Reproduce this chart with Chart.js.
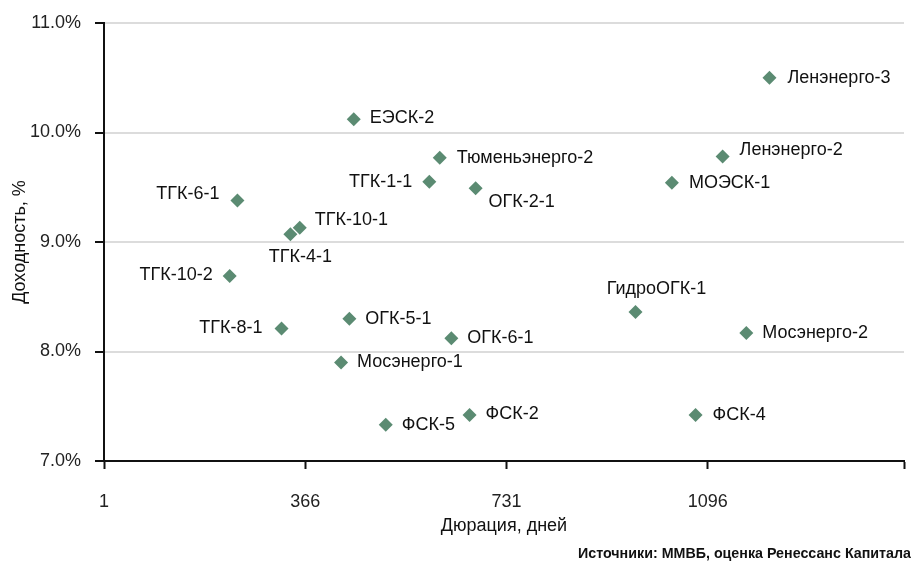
<!DOCTYPE html>
<html>
<head>
    <title>Доходность и дюрация</title>
    <script src="https://cdn.jsdelivr.net/npm/chart.js"></script>
    <style>
        html, body { margin: 0; padding: 0; background: #fff; }
        #wrap { width: 911px; height: 562px; position: relative; }
    </style>
</head>
<body>
    <div id="wrap">
        <canvas id="scatterChart" width="911" height="562"></canvas>
    </div>

    <script>
        // data
        var bondNames = ['Ленэнерго-3', 'Ленэнерго-2', 'МОЭСК-1', 'ЕЭСК-2', 'Тюменьэнерго-2',
            'ТГК-1-1', 'ОГК-2-1', 'ТГК-10-1', 'ТГК-4-1', 'ТГК-6-1', 'ТГК-10-2', 'ТГК-8-1',
            'ОГК-5-1', 'ОГК-6-1', 'Мосэнерго-1', 'ФСК-5', 'ФСК-2', 'ГидроОГК-1',
            'Мосэнерго-2', 'ФСК-4'];
        var durationDays = [1208, 1123, 1031, 454, 610, 591, 675, 356, 339, 243, 229, 323,
            446, 631, 431, 512, 664, 965, 1166, 1074];
        var yieldPct = [10.50, 9.78, 9.54, 10.12, 9.77, 9.55, 9.49, 9.13, 9.07, 9.38, 8.69, 8.21,
            8.30, 8.12, 7.90, 7.33, 7.42, 8.36, 8.17, 7.42];
        var xTicks = [1, 366, 731, 1096];
        var xMax = 1452;
        var yTicks = [7, 8, 9, 10, 11];

        // where each label sits relative to its marker: [dx, dy, align]
        var labelPlace = {
            'Ленэнерго-3': [18, 0, 'left'],
            'Ленэнерго-2': [17, -7, 'left'],
            'МОЭСК-1': [17, 0, 'left'],
            'ЕЭСК-2': [16, -1, 'left'],
            'Тюменьэнерго-2': [17, 0, 'left'],
            'ТГК-1-1': [-17, 0, 'right'],
            'ОГК-2-1': [13, 14, 'left'],
            'ТГК-10-1': [15, -8, 'left'],
            'ТГК-4-1': [10, 23, 'center'],
            'ТГК-6-1': [-18, -6, 'right'],
            'ТГК-10-2': [-17, -1, 'right'],
            'ТГК-8-1': [-19, 0, 'right'],
            'ОГК-5-1': [16, 0, 'left'],
            'ОГК-6-1': [16, 0, 'left'],
            'Мосэнерго-1': [16, 0, 'left'],
            'ФСК-5': [16, 0, 'left'],
            'ФСК-2': [16, -1, 'left'],
            'ГидроОГК-1': [21, -23, 'center'],
            'Мосэнерго-2': [16, 0, 'left'],
            'ФСК-4': [17, 0, 'left']
        };

        var points = durationDays.map(function (d, i) {
            return { x: d, y: yieldPct[i] };
        });

        var FONT = '"Liberation Sans", Arial, sans-serif';

        var pointLabels = {
            id: 'pointLabels',
            afterDatasetsDraw: function (chart) {
                var ctx = chart.ctx;
                var meta = chart.getDatasetMeta(0);
                ctx.save();
                ctx.font = '18px ' + FONT;
                ctx.fillStyle = '#111';
                ctx.textBaseline = 'middle';
                meta.data.forEach(function (el, i) {
                    var p = labelPlace[bondNames[i]] || [16, 0, 'left'];
                    ctx.textAlign = p[2];
                    ctx.fillText(bondNames[i], el.x + p[0], el.y + p[1]);
                });
                ctx.restore();
            }
        };

        var sourceNote = {
            id: 'sourceNote',
            afterDraw: function (chart) {
                var ctx = chart.ctx;
                var txt = 'Источники: ММВБ, оценка Ренессанс Капитала';
                ctx.save();
                ctx.font = 'bold 14px "Liberation Sans Narrow", ' + FONT;
                ctx.fillStyle = '#111';
                ctx.textBaseline = 'middle';
                var w = ctx.measureText(txt).width;
                var target = 333;
                ctx.translate(911 - target, 554);
                ctx.scale(target / w, 1);
                ctx.textAlign = 'left';
                ctx.fillText(txt, 0, 0);
                ctx.restore();
            }
        };

        var ctx = document.getElementById('scatterChart').getContext('2d');
        var myChart = new Chart(ctx, {
            type: 'scatter',
            data: {
                datasets: [{
                    data: points,
                    pointStyle: 'rectRot',
                    pointRadius: 7,
                    pointHoverRadius: 7,
                    backgroundColor: '#5B8B72',
                    borderColor: '#5B8B72',
                    borderWidth: 0
                }]
            },
            options: {
                responsive: false,
                animation: false,
                layout: { padding: { top: 23, right: 0, left: 0, bottom: 0 } },
                plugins: {
                    legend: { display: false },
                    tooltip: { enabled: false }
                },
                scales: {
                    x: {
                        type: 'linear',
                        min: xTicks[0],
                        max: xMax,
                        afterBuildTicks: function (scale) {
                            scale.ticks = xTicks.concat([xMax]).map(function (v) { return { value: v }; });
                        },
                        afterFit: function (scale) {
                            scale.height = 101;
                            scale.paddingRight = 0;
                            scale.paddingLeft = 0;
                        },
                        ticks: {
                            autoSkip: false,
                            maxRotation: 0,
                            padding: 22,
                            color: '#222',
                            font: { size: 18, family: FONT },
                            callback: function (v) { return xTicks.indexOf(v) >= 0 ? String(v) : ''; }
                        },
                        grid: {
                            drawOnChartArea: false,
                            drawTicks: true,
                            tickLength: 8,
                            tickColor: '#111',
                            tickWidth: 2
                        },
                        border: { color: '#111', width: 2 },
                        title: {
                            display: true,
                            text: 'Дюрация, дней',
                            color: '#111',
                            font: { size: 18, family: FONT },
                            padding: { top: 0, bottom: 25 }
                        }
                    },
                    y: {
                        min: yTicks[0],
                        max: yTicks[yTicks.length - 1],
                        afterBuildTicks: function (scale) {
                            scale.ticks = yTicks.map(function (v) { return { value: v }; });
                        },
                        afterFit: function (scale) {
                            scale.width = 104;
                            scale.paddingTop = 0;
                            scale.paddingBottom = 0;
                        },
                        ticks: {
                            padding: 14,
                            color: '#222',
                            font: { size: 18, family: FONT },
                            callback: function (v) { return v.toFixed(1) + '%'; }
                        },
                        grid: {
                            color: '#dcdcdc',
                            lineWidth: 2,
                            drawTicks: true,
                            tickLength: 9,
                            tickColor: '#111',
                            tickWidth: 2
                        },
                        border: { color: '#111', width: 2 },
                        title: {
                            display: true,
                            text: 'Доходность, %',
                            color: '#111',
                            font: { size: 18, family: FONT },
                            padding: { top: 9, bottom: 0 }
                        }
                    }
                }
            },
            plugins: [pointLabels, sourceNote]
        });
    </script>
</body>
</html>
